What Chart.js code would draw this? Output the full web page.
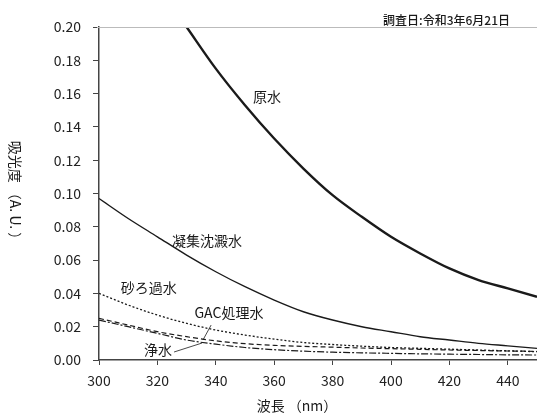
<!DOCTYPE html>
<html>
<head>
<meta charset="utf-8">
<script src="https://cdn.jsdelivr.net/npm/chart.js@4.4.1/dist/chart.umd.min.js"></script>
<style>
  body { margin: 0; background: #fff; }
  #wrap { width: 537px; height: 416px; position: relative; }
</style>
</head>
<body>
<div id="wrap"><canvas id="absChart"></canvas></div>
<script>
// 波長 (nm)
const wavelengths = [300, 310, 320, 330, 340, 350, 360, 370, 380, 390, 400, 410, 420, 430, 440, 450];

// 吸光度 — 原水は330nm以下がグラフ枠外
const rawWater     = [null, null, null, 0.200, 0.175, 0.153, 0.133, 0.115, 0.099, 0.086, 0.074, 0.064, 0.055, 0.048, 0.043, 0.038];
const coagulated   = [0.097, 0.085, 0.074, 0.063, 0.053, 0.044, 0.036, 0.029, 0.024, 0.020, 0.017, 0.014, 0.012, 0.010, 0.0085, 0.007];
const sandFiltered = [0.040, 0.033, 0.027, 0.022, 0.018, 0.015, 0.0125, 0.0105, 0.0093, 0.0083, 0.0075, 0.007, 0.0065, 0.006, 0.0055, 0.005];
const gacTreated   = [0.025, 0.021, 0.017, 0.014, 0.0115, 0.0098, 0.0088, 0.0082, 0.0077, 0.0072, 0.0068, 0.0064, 0.006, 0.0057, 0.0054, 0.0052];
const finished     = [0.024, 0.020, 0.016, 0.012, 0.0095, 0.0075, 0.0062, 0.0053, 0.0047, 0.0043, 0.004, 0.0037, 0.0035, 0.0033, 0.0031, 0.003];

const yTicks = [0, 0.02, 0.04, 0.06, 0.08, 0.10, 0.12, 0.14, 0.16, 0.18, 0.20];
const xTicks = [300, 320, 340, 360, 380, 400, 420, 440];

// ラベル (データ座標)
const seriesLabels = [
    { text: '原水',       x: 357.5, y: 0.158 },
    { text: '凝集沈澱水', x: 337,   y: 0.0715 },
    { text: '砂ろ過水',   x: 317,   y: 0.0432 },
    { text: 'GAC処理水',  x: 344.5, y: 0.0282 },
    { text: '浄水',       x: 320.2, y: 0.0060 }
];
const leaders = [
    [[338.4, 0.021], [335.6, 0.012]],
    [[325.7, 0.0048], [335.3, 0.0102]]
];

const FONT = '"Noto Sans CJK JP", "Noto Sans", sans-serif';
const INK = '#1a1a1a';

function points(vals) {
    return wavelengths.map((w, i) => ({ x: w, y: vals[i] }));
}

// 注釈・軸タイトル描画
const annotate = {
    id: 'annotate',
    afterDraw(chart) {
        const ctx = chart.ctx;
        const xs = chart.scales.x;
        const ys = chart.scales.y;
        const area = chart.chartArea;
        ctx.save();

        // 上枠線
        ctx.strokeStyle = '#bbb';
        ctx.lineWidth = 1;
        ctx.beginPath();
        ctx.moveTo(area.left - 2, area.top + 0.5);
        ctx.lineTo(area.right, area.top + 0.5);
        ctx.stroke();

        ctx.fillStyle = INK;
        ctx.textAlign = 'center';
        ctx.textBaseline = 'middle';
        ctx.font = '14px ' + FONT;
        seriesLabels.forEach(l => {
            ctx.fillText(l.text, xs.getPixelForValue(l.x), ys.getPixelForValue(l.y));
        });

        ctx.strokeStyle = INK;
        ctx.lineWidth = 0.8;
        leaders.forEach(seg => {
            ctx.beginPath();
            ctx.moveTo(xs.getPixelForValue(seg[0][0]), ys.getPixelForValue(seg[0][1]));
            ctx.lineTo(xs.getPixelForValue(seg[1][0]), ys.getPixelForValue(seg[1][1]));
            ctx.stroke();
        });

        // 調査日
        ctx.textAlign = 'right';
        ctx.font = '500 12px ' + FONT;
        ctx.fillText('調査日:令和3年6月21日', area.right - 27, area.top - 7);

        // x軸タイトル
        ctx.textAlign = 'center';
        ctx.font = '14px ' + FONT;
        ctx.fillText('波長 （nm）', area.left + 198, 406);

        // y軸タイトル（右回転）
        ctx.translate(15, (area.top + area.bottom) / 2);
        ctx.rotate(Math.PI / 2);
        ctx.fillText('吸光度 （A. U. ）', 0, 0);
        ctx.restore();
    }
};

const ctx = document.getElementById('absChart').getContext('2d');
new Chart(ctx, {
    type: 'line',
    data: {
        datasets: [
            { label: '原水', data: points(rawWater), borderColor: INK, borderWidth: 2.4 },
            { label: '凝集沈澱水', data: points(coagulated), borderColor: INK, borderWidth: 1.4 },
            { label: '砂ろ過水', data: points(sandFiltered), borderColor: INK, borderWidth: 1.3, borderDash: [2, 2] },
            { label: 'GAC処理水', data: points(gacTreated), borderColor: INK, borderWidth: 1.2, borderDash: [5, 3] },
            { label: '浄水', data: points(finished), borderColor: INK, borderWidth: 1.2, borderDash: [7, 2, 2, 2] }
        ]
    },
    options: {
        responsive: true,
        maintainAspectRatio: false,
        animation: false,
        layout: { padding: { top: 27, right: 0, left: 0, bottom: 0 } },
        elements: {
            point: { radius: 0 },
            line: { cubicInterpolationMode: 'monotone' }
        },
        plugins: {
            legend: { display: false },
            tooltip: { enabled: false }
        },
        scales: {
            x: {
                type: 'linear',
                min: 300,
                max: 450,
                afterBuildTicks: axis => {
                    axis.ticks = xTicks.map(v => ({ value: v }));
                },
                afterFit: axis => { axis.height = 56; },
                grid: { drawOnChartArea: false, drawTicks: true, tickLength: 5, color: '#444' },
                border: { display: true, color: '#444', width: 1.5 },
                ticks: { autoSkip: false, maxRotation: 0, padding: 7, color: '#222', font: { family: FONT, size: 14 } }
            },
            y: {
                min: 0,
                max: 0.2,
                afterBuildTicks: axis => {
                    axis.ticks = yTicks.map(v => ({ value: v }));
                },
                afterFit: axis => { axis.width = 99; },
                grid: { drawOnChartArea: false, drawTicks: true, tickLength: 6, color: '#444' },
                border: { display: true, color: '#444', width: 1.5 },
                ticks: {
                    autoSkip: false,
                    padding: 12,
                    color: '#222',
                    font: { family: FONT, size: 14 },
                    callback: v => v.toFixed(2)
                }
            }
        }
    },
    plugins: [annotate]
});
</script>
</body>
</html>
